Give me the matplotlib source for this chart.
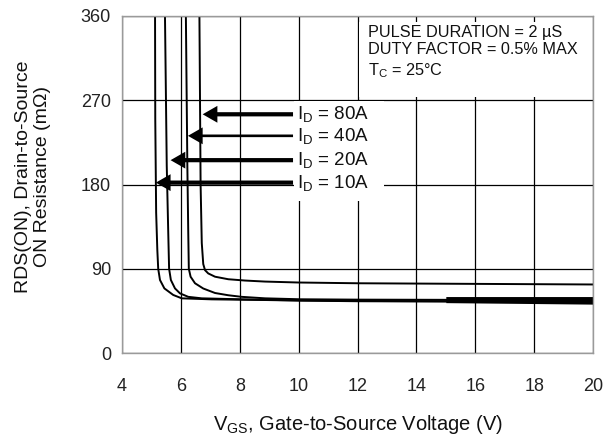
import matplotlib
matplotlib.use("Agg")
import matplotlib.pyplot as plt
from matplotlib.patches import Rectangle, FancyArrow

plt.rcParams['font.family'] = ['Liberation Sans', 'DejaVu Sans']
plt.rcParams['mathtext.fontset'] = 'custom'
plt.rcParams['mathtext.rm'] = 'Liberation Sans'
plt.rcParams['mathtext.it'] = 'Liberation Sans'

# ---- data ----
x_ticks = [4, 6, 8, 10, 12, 14, 16, 18, 20]
y_ticks = [0, 90, 180, 270, 360]

v_10A = [5.12, 5.13, 5.16, 5.20, 5.23, 5.29, 5.44, 5.74, 6.03, 7.05, 8.86, 10, 12, 15, 20]
r_10A = [400, 250, 150, 110, 90, 78, 69, 62, 58.4, 57.3, 56.6, 56, 55.3, 55, 55]

v_20A = [5.44, 5.46, 5.52, 5.57, 5.60, 5.66, 5.80, 5.97, 6.25, 6.71, 7.61, 8.86, 10, 12, 15, 20]
r_20A = [400, 360, 200, 130, 90, 78, 69, 63.7, 60, 58.4, 57.7, 56.8, 56.2, 55.6, 55.3, 55.2]

v_40A = [6.15, 6.17, 6.22, 6.25, 6.27, 6.33, 6.48, 6.76, 7.16, 7.61, 8.06, 8.86, 10.05, 12, 15, 20]
r_40A = [400, 360, 200, 130, 90, 81.5, 74.5, 68.9, 64.1, 61.7, 60, 58.4, 57.4, 57, 56.8, 56.5]

v_80A = [6.62, 6.63, 6.67, 6.71, 6.76, 6.82, 6.93, 7.16, 7.61, 8.18, 8.86, 10, 12, 15, 20]
r_80A = [400, 360, 180, 117.5, 95, 88.5, 85, 81.5, 78.8, 77.4, 76.3, 75.3, 74.5, 74, 73.2]

# merged (overlapping) curves drawn as a heavy band at high VGS
band_v = [15, 20]
band_lo = [53.8, 52.2]
band_hi = [60.3, 60.3]

labels = ["80A", "40A", "20A", "10A"]
label_r = [255, 232, 206, 182]
arrow_tip_v = [6.74, 6.24, 5.65, 5.15]
arrow_tail_v = 9.81

box_lines = ["PULSE DURATION = 2 \u00b5S", "DUTY FACTOR = 0.5% MAX", "T$_\\mathrm{C}$ = 25\u00b0C"]

# ---- figure ----
fig = plt.figure(figsize=(6.12, 4.37), dpi=100)
ax = fig.add_axes([122/612, 1-353/437, (593-122)/612, (353-16)/437])
ax.set_xlim(4, 20)
ax.set_ylim(0, 360)
ax.set_xticks(x_ticks)
ax.set_yticks(y_ticks)
ax.tick_params(axis='both', length=0, labelsize=13, colors='#222222')
ax.tick_params(axis='x', pad=18)
ax.tick_params(axis='y', pad=8)
for s in ax.spines.values():
    s.set_color('#9a9a9a')
    s.set_linewidth(1.0)

ax.set_axisbelow(True)
ax.grid(True, color='black', linewidth=0.9)

# masks hiding grid under the note box and the labels
ax.add_patch(Rectangle((12.04, 273.3), 20 - 12.04 - 0.02, 353.6 - 273.3,
                       facecolor='white', edgecolor='none', zorder=1))
ax.add_patch(Rectangle((9.85, 162.4), 12.9 - 9.85, 268.8 - 162.4,
                       facecolor='white', edgecolor='none', zorder=1))

for v, r in [(v_10A, r_10A), (v_20A, r_20A), (v_40A, r_40A), (v_80A, r_80A)]:
    ax.plot(v, r, color='black', linewidth=1.4, zorder=2, solid_capstyle='butt')

ax.fill_between(band_v, band_lo, band_hi, color='black', linewidth=0, zorder=2)

shaft_w = [4.5, 2.8, 4.5, 4.5]
for lab, r, tip, sw in zip(labels, label_r, arrow_tip_v, shaft_w):
    ax.add_patch(FancyArrow(arrow_tail_v, r, tip - arrow_tail_v, 0,
                            width=sw, head_width=18, head_length=0.5,
                            length_includes_head=True, color='black',
                            linewidth=0, zorder=3))
    ax.text(9.94, r, "I$_\\mathrm{D}$ = " + lab, fontsize=13.5, color='#111111',
            ha='left', va='center', zorder=4)

box_y = [342.5, 324, 302]
for t, y in zip(box_lines, box_y):
    ax.text(12.36, y, t, fontsize=11.7, color='#111111', ha='left', va='center', zorder=4)

fig.text(33/612, 1-177/437, "RDS(ON), Drain-to-Source\nON Resistance (m\u03a9)",
         rotation=90, ha='center', va='center', multialignment='center',
         fontsize=14, color='#111111', linespacing=1.1)
fig.text(358/612, 1-424/437, "V$_\\mathrm{GS}$, Gate-to-Source Voltage (V)",
         ha='center', va='center', fontsize=14.5, color='#111111')

fig.savefig("out.png", dpi=100)
